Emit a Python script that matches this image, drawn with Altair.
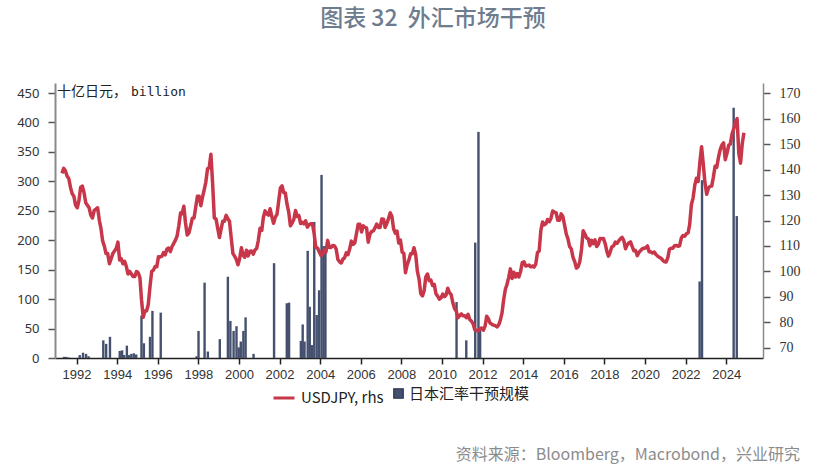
import altair as alt
import pandas as pd

# ---------------- data ----------------
# USDJPY monthly (rhs), Apr 1991 .. Nov 2024
usdjpy_1991 = [138.5, 140.5, 139.5, 137.5, 136.5, 133.0, 130.5, 129.5, 126.0]
usdjpy_1992 = [125.0, 128.0, 133.0, 133.5, 131.0, 127.0, 126.0, 125.0, 122.0, 121.0, 124.0, 124.5]
usdjpy_1993 = [125.0, 120.0, 117.0, 112.0, 110.0, 107.0, 107.0, 103.0, 105.0, 107.0, 108.0, 109.0]
usdjpy_1994 = [111.5, 104.5, 105.0, 103.0, 104.0, 102.0, 99.0, 100.0, 99.0, 98.0, 98.0, 100.0]
usdjpy_1995 = [99.5, 97.5, 89.0, 82.0, 84.5, 84.5, 87.0, 94.0, 100.0, 100.5, 101.9, 101.8]
usdjpy_1996 = [105.8, 105.7, 105.9, 107.4, 106.5, 108.8, 109.2, 107.8, 109.8, 111.0, 112.3, 113.9]
usdjpy_1997 = [118.0, 123.0, 122.7, 125.6, 119.0, 114.3, 115.1, 117.9, 120.9, 121.0, 125.3, 129.5]
usdjpy_1998 = [129.5, 125.8, 129.0, 131.9, 135.0, 140.3, 140.7, 146.0, 134.5, 121.0, 120.6, 117.0]
usdjpy_1999 = [113.3, 116.7, 119.7, 119.7, 122.0, 120.7, 119.7, 113.2, 107.0, 106.0, 104.7, 102.6]
usdjpy_2000 = [105.2, 109.3, 106.3, 105.6, 108.3, 106.1, 107.9, 108.0, 106.8, 108.4, 109.0, 112.2]
usdjpy_2001 = [117.0, 116.1, 121.2, 123.8, 122.6, 122.1, 124.6, 121.5, 118.9, 121.3, 122.3, 127.4]
usdjpy_2002 = [132.7, 133.6, 131.0, 130.8, 126.4, 123.3, 117.9, 119.0, 120.5, 123.9, 121.6, 121.9]
usdjpy_2003 = [118.8, 119.3, 118.7, 119.9, 117.4, 118.3, 118.7, 118.7, 114.8, 109.5, 109.2, 107.7]
usdjpy_2004 = [106.3, 106.7, 108.5, 107.7, 112.2, 109.4, 109.4, 110.2, 110.0, 108.8, 104.7, 103.8]
usdjpy_2005 = [103.3, 104.9, 105.3, 107.3, 106.6, 108.8, 111.9, 110.6, 111.2, 114.8, 118.5, 118.5]
usdjpy_2006 = [115.5, 117.9, 117.3, 117.1, 111.5, 114.6, 115.7, 115.9, 117.2, 118.6, 117.3, 117.3]
usdjpy_2007 = [120.6, 120.5, 117.3, 118.8, 120.8, 123.0, 121.6, 116.7, 115.0, 115.8, 111.2, 112.3]
usdjpy_2008 = [107.6, 107.1, 99.5, 102.7, 104.4, 106.9, 106.9, 109.3, 106.6, 100.1, 96.9, 91.3]
usdjpy_2009 = [90.4, 92.5, 97.8, 99.0, 96.4, 96.6, 94.5, 94.9, 91.2, 90.3, 89.1, 89.6]
usdjpy_2010 = [91.1, 90.1, 90.7, 93.4, 91.7, 90.9, 87.7, 85.4, 84.4, 81.8, 82.6, 83.3]
usdjpy_2011 = [82.6, 82.6, 81.8, 83.2, 81.1, 80.5, 79.4, 77.1, 76.8, 76.7, 77.5, 77.8]
usdjpy_2012 = [76.9, 78.5, 82.4, 81.4, 79.7, 79.3, 78.9, 78.7, 78.2, 78.9, 80.8, 83.6]
usdjpy_2013 = [89.0, 93.1, 94.8, 97.7, 101.0, 97.2, 99.7, 97.8, 99.2, 97.8, 100.0, 103.5]
usdjpy_2014 = [103.8, 102.1, 102.3, 102.5, 101.8, 102.1, 101.7, 102.9, 107.4, 108.0, 116.2, 119.4]
usdjpy_2015 = [118.3, 118.8, 120.4, 119.5, 120.8, 123.7, 123.3, 123.1, 120.1, 120.1, 122.6, 121.6]
usdjpy_2016 = [118.2, 114.7, 112.9, 109.7, 108.9, 105.5, 103.9, 101.3, 101.9, 103.8, 108.6, 116.0]
usdjpy_2017 = [114.7, 113.1, 112.9, 110.1, 112.2, 110.9, 112.4, 109.8, 110.8, 112.9, 112.8, 112.9]
usdjpy_2018 = [110.9, 107.8, 106.0, 107.6, 109.7, 110.0, 111.5, 111.0, 112.0, 112.8, 113.4, 112.2]
usdjpy_2019 = [108.9, 110.4, 111.2, 111.6, 109.8, 108.1, 108.2, 106.2, 107.5, 108.2, 108.9, 109.1]
usdjpy_2020 = [109.3, 110.0, 107.7, 107.7, 107.2, 107.6, 106.7, 106.0, 105.6, 105.2, 104.4, 103.8]
usdjpy_2021 = [103.7, 105.4, 108.7, 109.1, 109.1, 110.1, 110.2, 109.9, 110.1, 113.1, 114.1, 113.8]
usdjpy_2022 = [114.8, 115.2, 118.5, 126.3, 128.8, 133.9, 136.6, 135.3, 143.1, 149.0, 142.0, 134.8]
usdjpy_2023 = [130.3, 132.7, 133.4, 133.5, 137.0, 141.3, 140.9, 144.8, 147.8, 149.6, 150.5, 143.9]
usdjpy_2024 = [146.4, 149.6, 150.0, 154.0, 156.0, 158.5, 160.0, 146.3, 142.5, 150.0, 154.5]

usdjpy = (usdjpy_1991 + usdjpy_1992 + usdjpy_1993 + usdjpy_1994 + usdjpy_1995 + usdjpy_1996
          + usdjpy_1997 + usdjpy_1998 + usdjpy_1999 + usdjpy_2000 + usdjpy_2001 + usdjpy_2002
          + usdjpy_2003 + usdjpy_2004 + usdjpy_2005 + usdjpy_2006 + usdjpy_2007 + usdjpy_2008
          + usdjpy_2009 + usdjpy_2010 + usdjpy_2011 + usdjpy_2012 + usdjpy_2013 + usdjpy_2014
          + usdjpy_2015 + usdjpy_2016 + usdjpy_2017 + usdjpy_2018 + usdjpy_2019 + usdjpy_2020
          + usdjpy_2021 + usdjpy_2022 + usdjpy_2023 + usdjpy_2024)
usdjpy_first_month = "1991-04-01"

# Japan FX intervention size (十亿日元), lhs
intervention_dates = [
    "1991-05-20", "1991-07-01", "1991-08-18",
    "1992-02-28", "1992-04-27", "1992-06-21", "1992-08-05",
    "1993-04-27", "1993-06-17", "1993-08-25",
    "1994-02-17", "1994-04-01", "1994-05-08", "1994-06-25", "1994-08-03",
    "1994-09-13", "1994-10-27", "1994-12-10",
    "1995-03-15", "1995-04-27", "1995-08-15", "1995-09-28",
    "1996-02-24",
    "1997-11-30", "1998-01-04", "1998-04-23", "1998-06-21",
    "1999-01-22", "1999-06-16", "1999-07-31", "1999-09-27", "1999-11-18", "1999-12-28",
    "2000-02-03", "2000-03-21", "2000-04-30", "2000-09-20",
    "2001-09-24",
    "2002-05-11", "2002-06-21",
    "2003-01-19", "2003-02-21", "2003-03-26", "2003-05-22", "2003-06-28", "2003-08-04",
    "2003-09-17", "2003-10-31", "2003-12-13",
    "2004-01-26", "2004-03-03", "2004-04-05",
    "2010-09-20", "2011-03-14", "2011-08-22", "2011-10-19", "2011-11-18",
    "2022-09-10", "2022-10-23", "2024-05-14", "2024-07-09",
]
intervention_values = [
    2, 2, 1,
    5, 9, 7, 3,
    30, 24, 36,
    12, 13, 5, 21, 5,
    7, 8, 6,
    72, 25, 36, 80,
    77,
    3, 46, 128, 11,
    32, 138, 63, 46, 54, 18,
    28, 46, 69, 7,
    161,
    93, 94,
    29, 57, 28, 182, 87, 22,
    231, 73, 115,
    311, 190, 190,
    95, 30, 196, 384, 50,
    130, 302, 425, 241,
]

x_ticks = list(range(1992, 2025, 2))
left_ticks = list(range(0, 451, 50))
right_ticks = list(range(70, 171, 10))

NBSP = "\u00a0"
title_text = "图表" + NBSP + "32" + NBSP + NBSP + "外汇市场干预"
unit_cn = "十亿日元，"
unit_en = "billion"
source_text = "资料来源：Bloomberg，Macrobond，兴业研究"
line_name = "USDJPY, rhs"
bar_name = "日本汇率干预规模"

# ---------------- frames ----------------
line_df = pd.DataFrame({
    "date": pd.date_range(usdjpy_first_month, periods=len(usdjpy), freq="MS") + pd.Timedelta(days=14),
    "value": usdjpy,
    "series": line_name,
})
bar_df = pd.DataFrame({
    "date": pd.to_datetime(intervention_dates),
    "value": intervention_values,
    "series": bar_name,
})

RED = "#C8364A"
NAVY = "#44506E"
CJK = "Noto Sans CJK SC"

x_enc = alt.X(
    "date:T",
    scale=alt.Scale(domain=[alt.DateTime(year=1991, month=3, date=10),
                            alt.DateTime(year=2025, month=7, date=26)]),
    axis=alt.Axis(
        title=None,
        values=[alt.DateTime(year=y, month=1, date=1) for y in x_ticks],
        format="%Y",
        grid=False,
        domainColor="#222222",
        domainWidth=1.5,
        tickColor="#222222",
        tickWidth=1.5,
        tickSize=6,
        labelFont="Liberation Sans",
        labelFontSize=13,
        labelColor="#333333",
        labelPadding=4,
    ),
)

bars = alt.Chart(bar_df).mark_bar(size=2.4).encode(
    x=x_enc,
    y=alt.Y(
        "value:Q",
        scale=alt.Scale(domain=[0, 467], nice=False, zero=True),
        axis=alt.Axis(
            title=None,
            orient="left",
            values=left_ticks,
            grid=False,
            domainColor="#8A8A8A",
            domainWidth=2,
            tickColor="#555555",
            tickWidth=1.5,
            tickSize=7,
            labelFont="Noto Sans",
            labelFontSize=13,
            labelColor="#333333",
            labelPadding=9,
        ),
    ),
    fill=alt.Fill(
        "series:N",
        scale=alt.Scale(domain=[bar_name], range=[NAVY]),
        legend=alt.Legend(
            title=None,
            orient="none",
            legendX=336,
            legendY=303,
            padding=0,
            symbolType="square",
            symbolSize=90,
            symbolStrokeColor="#2A3350",
            symbolStrokeWidth=1.2,
            labelFont=CJK,
            labelFontSize=15,
            labelColor="#222222",
            labelOffset=3,
        ),
    ),
)

line = alt.Chart(line_df).mark_line(strokeWidth=3.5, color=RED, strokeJoin="round").encode(
    x=alt.X("date:T"),
    y=alt.Y(
        "value:Q",
        scale=alt.Scale(domain=[66, 174], nice=False, zero=False),
        axis=alt.Axis(
            title=None,
            orient="right",
            values=right_ticks,
            grid=False,
            domainColor="#8A8A8A",
            domainWidth=1.5,
            tickColor="#555555",
            tickWidth=1.5,
            tickSize=7,
            labelFont="Liberation Serif",
            labelFontSize=14,
            labelColor="#333333",
            labelPadding=9,
        ),
    ),
    stroke=alt.Stroke(
        "series:N",
        scale=alt.Scale(domain=[line_name], range=[RED]),
        legend=alt.Legend(
            title=None,
            orient="none",
            legendX=217,
            legendY=303,
            padding=0,
            symbolType="stroke",
            symbolSize=441,
            symbolStrokeWidth=3,
            labelFont=CJK,
            labelFontSize=15,
            labelColor="#222222",
            labelOffset=5,
        ),
    ),
)

one = pd.DataFrame({"k": [0]})

title = alt.Chart(one).mark_text(
    text=title_text, font=CJK, fontSize=23, fontWeight=500,
    color="#6E7D8E", align="center", baseline="middle",
).encode(x=alt.value(378), y=alt.value(-64))

unit1 = alt.Chart(one).mark_text(
    text=unit_cn, font=CJK, fontSize=14, color="#222222",
    align="left", baseline="middle",
).encode(x=alt.value(2), y=alt.value(9))

unit2 = alt.Chart(one).mark_text(
    text=unit_en, font="DejaVu Sans Mono", fontSize=13, color="#222222",
    align="left", baseline="middle",
).encode(x=alt.value(76), y=alt.value(9))

source = alt.Chart(one).mark_text(
    text=source_text, font=CJK, fontSize=16, color="#8C8C8C",
    align="right", baseline="middle",
).encode(x=alt.value(745), y=alt.value(372))

chart = (
    alt.layer(bars, line, title, unit1, unit2, source)
    .resolve_scale(y="independent", fill="independent", stroke="independent")
    .properties(
        width=708,
        height=275,
        autosize=alt.AutoSizeParams(type="none"),
        padding={"left": 55, "top": 83, "right": 72, "bottom": 117},
        background="white",
    )
    .configure_view(stroke=None)
)

chart.save("out.html", embed_options={"renderer": "svg", "actions": False})
